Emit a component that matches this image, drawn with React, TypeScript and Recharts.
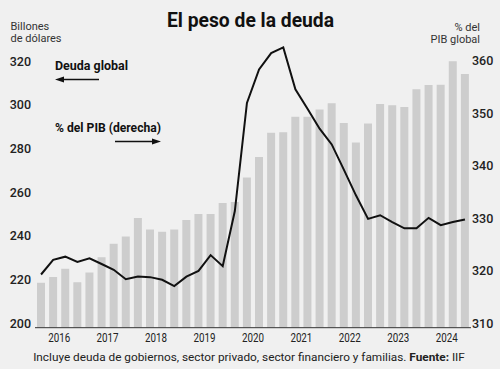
import React from 'react';
import { ComposedChart, Bar, Line, XAxis, YAxis } from 'recharts';

// Quarterly observations, 2016 T1 – 2024 T4
const quarters = [
  '2016 T1', '2016 T2', '2016 T3', '2016 T4',
  '2017 T1', '2017 T2', '2017 T3', '2017 T4',
  '2018 T1', '2018 T2', '2018 T3', '2018 T4',
  '2019 T1', '2019 T2', '2019 T3', '2019 T4',
  '2020 T1', '2020 T2', '2020 T3', '2020 T4',
  '2021 T1', '2021 T2', '2021 T3', '2021 T4',
  '2022 T1', '2022 T2', '2022 T3', '2022 T4',
  '2023 T1', '2023 T2', '2023 T3', '2023 T4',
  '2024 T1', '2024 T2', '2024 T3', '2024 T4',
];

// Deuda global, billones de dólares (left axis)
const deudaGlobal = [
  218.6, 221.2, 225.0, 218.8, 223.3, 230.3, 236.4, 239.8, 248.2, 243.0, 241.9, 243.0,
  247.3, 250.0, 250.0, 255.1, 255.5, 266.8, 276.1, 287.2, 287.5, 294.6, 294.6, 297.9,
  300.7, 291.7, 282.8, 291.5, 300.4, 299.8, 299.0, 307.2, 309.1, 309.2, 320.0, 314.1,
];

// % del PIB global (right axis)
const pctPIB = [
  319.3, 322.1, 322.7, 321.7, 322.4, 321.3, 320.2, 318.4, 318.9, 318.8, 318.3, 317.1,
  318.9, 320.0, 323.0, 320.9, 331.4, 352.0, 358.4, 361.5, 362.6, 354.6, 350.9, 347.1,
  344.1, 339.3, 334.4, 329.9, 330.6, 329.3, 328.1, 328.1, 330.1, 328.7, 329.3, 329.8,
];

const leftTicks = [200, 220, 240, 260, 280, 300, 320];
const rightTicks = [310, 320, 330, 340, 350, 360];
// Year labels on the x axis, each placed at the quarter it labels
const yearTickQuarters = [
  '2016 T2', '2017 T2', '2018 T2', '2019 T2', '2020 T2',
  '2021 T2', '2022 T2', '2023 T2', '2024 T2',
];

const data = quarters.map((q, i) => ({ q, deuda: deudaGlobal[i], pib: pctPIB[i] }));

const FONT = "Roboto, 'Noto Sans', sans-serif";
const BG = '#f0f0f0';

const YearTick = (props: any) => {
  const { x, y, payload } = props;
  return (
    <text
      x={x + 6}
      y={y}
      dy={9.5}
      textAnchor="middle"
      fontFamily={FONT}
      fontSize={12.5}
      fill="#222"
      textLength={22}
      lengthAdjust="spacingAndGlyphs"
    >
      {String(payload.value).slice(0, 4)}
    </text>
  );
};

export default function App() {
  return (
    <div style={{ position: 'absolute', left: 0, top: 0, width: 500, height: 369, background: BG, overflow: 'hidden' }}>
      <ComposedChart
        width={500}
        height={369}
        data={data}
        margin={{ top: 35, right: 0, left: 0, bottom: 21.3 }}
      >
        <XAxis
          dataKey="q"
          ticks={yearTickQuarters}
          interval={0}
          height={20}
          axisLine={{ stroke: '#333', strokeWidth: 1 }}
          tickLine={false}
          tickSize={0}
          tickMargin={5}
          tick={<YearTick />}
        />
        <YAxis
          yAxisId="left"
          orientation="left"
          width={35}
          domain={[198, 332]}
          ticks={leftTicks}
          allowDataOverflow
          axisLine={false}
          tickLine={false}
          tickSize={0}
          tickMargin={4}
          tick={{ fontFamily: FONT, fontSize: 12.5, fontWeight: 500, fill: '#222' }}
        />
        <YAxis
          yAxisId="right"
          orientation="right"
          width={29}
          domain={[309.16, 364.96]}
          ticks={rightTicks}
          allowDataOverflow
          axisLine={false}
          tickLine={false}
          tickSize={0}
          tickMargin={1}
          tick={{ fontFamily: FONT, fontSize: 12.5, fontWeight: 500, fill: '#222', textAnchor: 'start' }}
        />
        <Bar
          dataKey="deuda"
          yAxisId="left"
          fill="#cdcdcd"
          barSize={8}
          isAnimationActive={false}
        />
        <Line
          dataKey="pib"
          yAxisId="right"
          type="linear"
          stroke="#111"
          strokeWidth={2}
          dot={false}
          activeDot={false}
          isAnimationActive={false}
        />
      </ComposedChart>
      <svg
        width={500}
        height={369}
        style={{ position: 'absolute', left: 0, top: 0, pointerEvents: 'none' }}
      >
        <text x={250.5} y={26.5} textAnchor="middle" fontFamily={FONT} fontWeight={700} fontSize={21} fill="#111" textLength={167} lengthAdjust="spacingAndGlyphs">
          El peso de la deuda
        </text>
        <text fontFamily={FONT} fontSize={11} fill="#333">
          <tspan x={10.5} y={30}>Billones</tspan>
          <tspan x={10.5} y={42}>de dólares</tspan>
        </text>
        <text fontFamily={FONT} fontSize={11} fill="#333" textAnchor="end">
          <tspan x={480} y={30.5}>% del</tspan>
          <tspan x={480} y={42.5}>PIB global</tspan>
        </text>
        <text x={55} y={70} fontFamily={FONT} fontWeight={700} fontSize={12.5} fill="#111" textLength={73} lengthAdjust="spacingAndGlyphs">
          Deuda global
        </text>
        <line x1={62} y1={79.5} x2={99} y2={79.5} stroke="#111" strokeWidth={1.5} />
        <polygon points="55,79.5 64,76.5 64,82.5" fill="#111" />
        <text x={55} y={132} fontFamily={FONT} fontWeight={700} fontSize={12.5} fill="#111" textLength={106} lengthAdjust="spacingAndGlyphs">
          % del PIB (derecha)
        </text>
        <line x1={115} y1={141.5} x2={153} y2={141.5} stroke="#111" strokeWidth={1.5} />
        <polygon points="161,141.5 152,138.5 152,144.5" fill="#111" />
        <text x={249} y={360.5} textAnchor="middle" fontFamily={FONT} fontSize={11.8} fill="#222">
          Incluye deuda de gobiernos, sector privado, sector financiero y familias. <tspan fontWeight={700}>Fuente:</tspan> IIF
        </text>
      </svg>
    </div>
  );
}
